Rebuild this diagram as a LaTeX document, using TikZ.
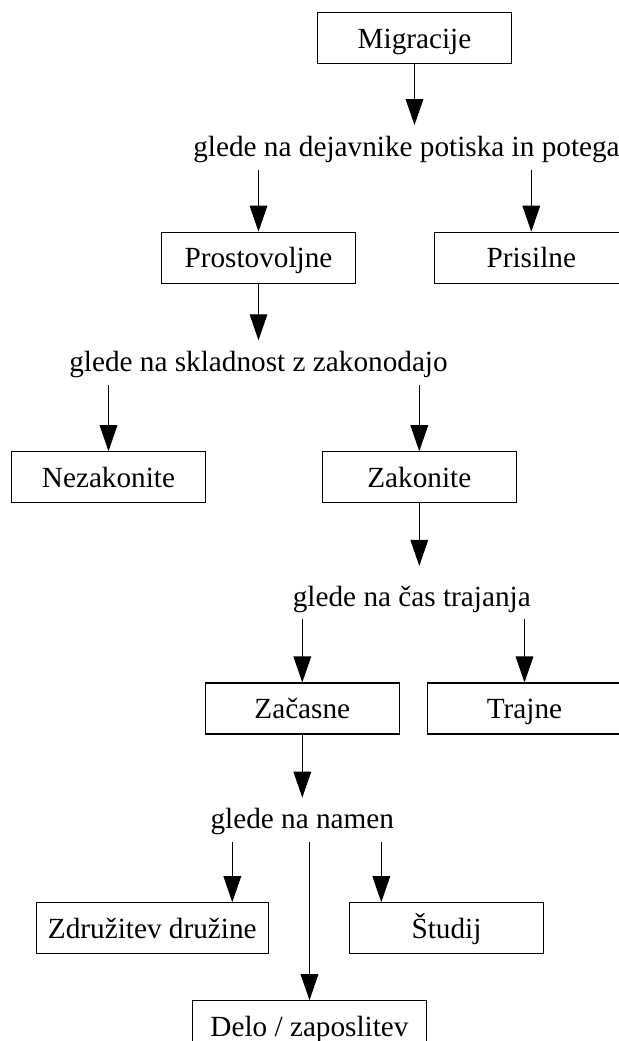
\documentclass[tikz,border=0pt]{standalone}
\usepackage{fontspec}
\setmainfont{Liberation Serif}
\usetikzlibrary{arrows.meta, positioning, calc}

\begin{document}
\begin{tikzpicture}[
    node distance=1.5cm,
    category/.style={
        rectangle, draw=black, line width=0.85pt,
        minimum width=#1, minimum height=1.275cm,
        inner sep=0pt, text height=0.65cm, text depth=0.15cm,
        font=\fontsize{20.8pt}{25pt}\selectfont, align=center
    },
    category/.default=4.85cm,
    criterion/.style={
        inner sep=0pt, text height=0.775cm, text depth=0.325cm,
        font=\fontsize{20.8pt}{25pt}\selectfont
    },
    arrow/.style={-{Triangle[length=0.65cm, width=0.44cm]}, line width=0.85pt, draw=black}
]

\useasboundingbox (0,0) rectangle (15.475,-26.025);

% Level 0: Migracije
\node[category] (mig) at (10.3625,-0.95) {Migracije};
\node[criterion, below=1.525cm of mig, xshift=-0.2cm] (potisk) {glede na dejavnike potiska in potega};

% Level 1: push / pull
\node[category, below=1.55cm of potisk, xshift=-3.7cm] (prost) {Prostovoljne};
\node[category, right=1.94cm of prost] (pris) {Prisilne};
\node[criterion, below=1.41cm of prost] (zakon) {glede na skladnost z zakonodajo};

% Level 2: legality
\node[category, below=1.66cm of zakon, xshift=-3.75cm] (nezak) {Nezakonite};
\node[category, right=2.89cm of nezak] (zak) {Zakonite};
\node[criterion, text height=1cm, below=1.5625cm of zak, xshift=-0.1875cm] (cas) {glede na čas trajanja};

% Level 3: duration
\node[category, below=1.575cm of cas, xshift=-2.7375cm] (zac) {Začasne};
\node[category, right=0.675cm of zac] (traj) {Trajne};
\node[criterion, below=1.575cm of zac] (namen) {glede na namen};

% Level 4: purpose
\node[category=5.8cm, below=1.5cm of namen, xshift=-3.75cm] (druz) {Združitev družine};
\node[category, right=2cm of druz] (stud) {Študij};
\node[category=5.85cm, below=3.95cm of namen, xshift=0.18cm] (delo) {Delo / zaposlitev};

% Arrows
\draw[arrow] (mig) -- (mig |- potisk.north);
\draw[arrow] (prost |- potisk.south) -- (prost);
\draw[arrow] (pris |- potisk.south) -- (pris);
\draw[arrow] (prost) -- (zakon);
\draw[arrow] (nezak |- zakon.south) -- (nezak);
\draw[arrow] (zak |- zakon.south) -- (zak);
\draw[arrow] (zak) -- (zak |- cas.north);
\draw[arrow] (zac |- cas.south) -- (zac);
\draw[arrow] (traj |- cas.south) -- (traj);
\draw[arrow] (zac) -- (zac |- namen.north);
\draw[arrow] ([xshift=-1.75cm]namen.south) -- ([xshift=-1.75cm]namen.south |- druz.north);
\draw[arrow] ([xshift=1.975cm]namen.south) -- ([xshift=1.975cm]namen.south |- stud.north);
\draw[arrow] (delo |- namen.south) -- (delo);

\end{tikzpicture}
\end{document}
